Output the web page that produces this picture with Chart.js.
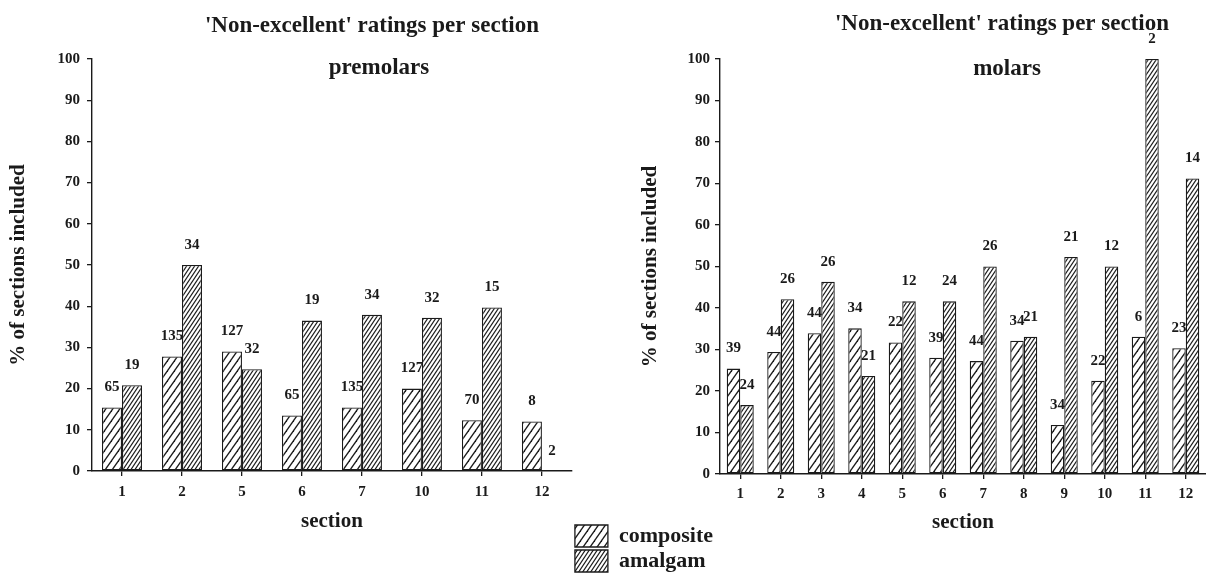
<!DOCTYPE html>
<html><head><meta charset="utf-8">
<script src="https://cdn.jsdelivr.net/npm/chart.js@4.4.1/dist/chart.umd.min.js"></script>
<style>
html,body{margin:0;padding:0;background:#fff;width:1206px;height:588px;overflow:hidden;position:relative;}
canvas{position:absolute;top:0;}
</style></head><body>
<canvas id="left"></canvas>
<canvas id="right"></canvas>
<script>
// ---------- data ----------
const seriesNames = ['composite', 'amalgam'];
const chartTitle = "'Non-excellent' ratings per section";
const yAxisTitle = '% of sections included';
const xAxisTitle = 'section';
const yMin = 0, yMax = 100, yStep = 10;

const premolarLabel = 'premolars';
const premolarSections = ['1', '2', '5', '6', '7', '10', '11', '12'];
const premolarComposite = [15.4, 27.8, 29.0, 13.5, 15.4, 20.0, 12.3, 12.0];
const premolarAmalgam   = [20.8, 50.0, 24.7, 36.5, 37.9, 37.2, 39.7, 0];
const premolarCompositeN = [65, 135, 127, 65, 135, 127, 70, 8];
const premolarAmalgamN   = [19, 34, 32, 19, 34, 32, 15, 2];

const molarLabel = 'molars';
const molarSections = ['1', '2', '3', '4', '5', '6', '7', '8', '9', '10', '11', '12'];
const molarComposite = [25.4, 29.4, 33.9, 35.1, 31.7, 28.0, 27.2, 32.1, 11.8, 22.5, 33.1, 30.3];
const molarAmalgam   = [16.6, 42.1, 46.3, 23.6, 41.6, 41.6, 50.0, 33.1, 52.3, 50.0, 100, 71.2];
const molarCompositeN = [39, 44, 44, 34, 22, 39, 44, 34, 34, 22, 6, 23];
const molarAmalgamN   = [24, 26, 26, 21, 12, 24, 26, 21, 21, 12, 2, 14];

// ---------- styles ----------
const FAMILY = '"Liberation Serif", "Times New Roman", serif';
const INK = '#1a1a1a';
Chart.defaults.font.family = FAMILY;
Chart.defaults.color = INK;

function hatch(w, h, lw) {
  const c = document.createElement('canvas');
  c.width = w; c.height = h;
  const g = c.getContext('2d');
  g.fillStyle = '#fff'; g.fillRect(0, 0, w, h);
  g.strokeStyle = INK; g.lineWidth = lw;
  for (const dx of [-w, 0, w]) {
    g.beginPath();
    g.moveTo(dx - w, 2 * h);
    g.lineTo(dx + 2 * w, -h);
    g.stroke();
  }
  return g.createPattern(c, 'repeat');
}
const compositeFill = hatch(7, 10, 1.3);
const amalgamFill = hatch(4, 6, 1.2);

const valueLabels = {
  id: 'valueLabels',
  afterDatasetsDraw(chart, args, opts) {
    const ctx = chart.ctx;
    ctx.save();
    ctx.font = opts.font;
    ctx.fillStyle = INK;
    ctx.textAlign = 'center';
    ctx.textBaseline = 'middle';
    opts.counts.forEach((arr, i) => {
      const meta = chart.getDatasetMeta(i);
      meta.data.forEach((el, j) => {
        ctx.fillText(String(arr[j]), el.x, el.y - opts.offset);
      });
    });
    ctx.restore();
  }
};

const panelText = {
  id: 'panelText',
  afterDraw(chart, args, opts) {
    const {ctx, chartArea} = chart;
    const cx = (chartArea.left + chartArea.right) / 2;
    ctx.save();
    ctx.fillStyle = INK;
    ctx.textAlign = 'center';
    ctx.textBaseline = 'alphabetic';
    opts.lines.forEach(l => {
      ctx.font = l.font;
      ctx.fillText(l.text, cx + l.dx, l.y);
    });
    ctx.restore();
  }
};

const tickFont = {family: FAMILY, size: 15, weight: 'bold'};
const axisTitleFont = {family: FAMILY, size: 21, weight: 'bold'};
const bigFont = 'bold 23px ' + FAMILY;
const legendFontSize = 22;
const legendBoxW = 33, legendBoxH = 22, legendPad = 3;

function buildConfig(p) {
  return {
    type: 'bar',
    data: {
      labels: p.sections,
      datasets: [
        {label: seriesNames[0], data: p.composite, backgroundColor: compositeFill, borderColor: INK, borderWidth: 1.3, borderSkipped: false},
        {label: seriesNames[1], data: p.amalgam, backgroundColor: amalgamFill, borderColor: INK, borderWidth: 1.3, borderSkipped: false}
      ]
    },
    options: {
      responsive: false,
      animation: false,
      events: [],
      datasets: {bar: {categoryPercentage: 0.667, barPercentage: 1.0}},
      layout: {padding: {top: 59, bottom: p.padBottom, left: 0, right: 0}},
      plugins: {
        title: {display: false},
        tooltip: {enabled: false},
        legend: {
          display: p.legend,
          position: 'right',
          align: 'end',
          labels: {
            boxWidth: legendBoxW, boxHeight: legendBoxH, padding: legendPad, color: INK,
            font: {family: FAMILY, size: legendFontSize, weight: 'bold'}
          }
        },
        valueLabels: {counts: [p.compositeN, p.amalgamN], offset: 20, font: 'bold 15px ' + FAMILY},
        panelText: {lines: [
          {text: chartTitle, font: bigFont, dx: p.titleDx, y: p.titleY},
          {text: p.label, font: bigFont, dx: p.subDx, y: p.subY}
        ]}
      },
      scales: {
        x: {
          offset: true,
          grid: {offset: false, drawOnChartArea: false, drawTicks: true, tickLength: 5, color: INK, lineWidth: 1.3},
          border: {display: true, color: INK, width: 1.4},
          ticks: {padding: p.xTickPad, font: tickFont, color: INK, maxRotation: 0, autoSkip: false},
          title: {display: true, text: xAxisTitle, font: axisTitleFont, color: INK, padding: {top: 0, bottom: p.xTitlePad}},
          afterFit: s => { s.height = p.xHeight; }
        },
        y: {
          min: yMin, max: yMax,
          grid: {drawOnChartArea: false, drawTicks: true, tickLength: 5, color: INK, lineWidth: 1.3},
          border: {display: true, color: INK, width: 1.4},
          ticks: {stepSize: yStep, padding: p.yTickPad, font: tickFont, color: INK},
          title: {display: true, text: yAxisTitle, font: axisTitleFont, color: INK, padding: {top: p.yTitlePad, bottom: 0}},
          afterFit: s => { s.width = p.yWidth; }
        }
      }
    },
    plugins: [valueLabels, panelText]
  };
}

// left panel size: plot right edge + legend width
const mc = document.createElement('canvas').getContext('2d');
mc.font = 'bold ' + legendFontSize + 'px ' + FAMILY;
const legendTextW = Math.max(...seriesNames.map(s => mc.measureText(s).width));
const legendW = legendPad + legendBoxW + legendFontSize / 2 + legendTextW + 10;
const leftPlotRight = 572;

const lc = document.getElementById('left');
lc.width = Math.round(leftPlotRight + legendW); lc.height = 588;
lc.style.left = '0px';
const rc = document.getElementById('right');
rc.width = 586; rc.height = 588;
rc.style.left = '620px';

new Chart(lc, buildConfig({
  sections: premolarSections, composite: premolarComposite, amalgam: premolarAmalgam,
  compositeN: premolarCompositeN, amalgamN: premolarAmalgamN, label: premolarLabel,
  legend: true, padBottom: 13, xHeight: 104, xTickPad: 7, xTitlePad: 41,
  yWidth: 92, yTickPad: 7, yTitlePad: 6,
  titleDx: 40, titleY: 32, subDx: 47, subY: 74
}));
new Chart(rc, buildConfig({
  sections: molarSections, composite: molarComposite, amalgam: molarAmalgam,
  compositeN: molarCompositeN, amalgamN: molarAmalgamN, label: molarLabel,
  legend: false, padBottom: 0, xHeight: 114, xTickPad: 6, xTitlePad: 53,
  yWidth: 100, yTickPad: 5, yTitlePad: 18,
  titleDx: 39, titleY: 30, subDx: 44, subY: 75
}));
</script>
</body></html>
